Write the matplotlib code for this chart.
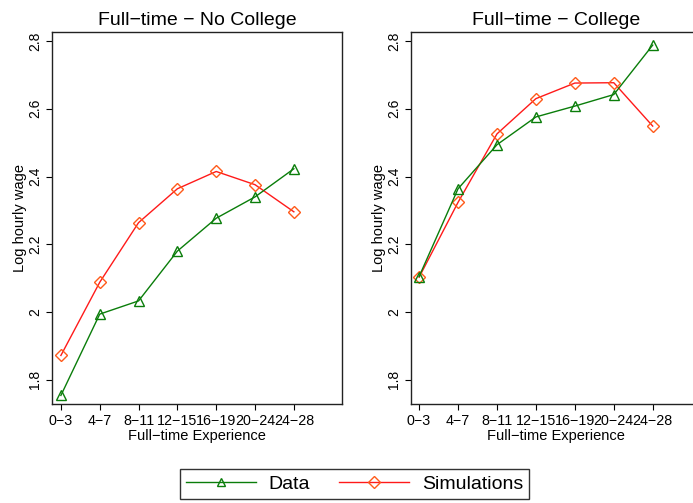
import matplotlib
matplotlib.use("Agg")
import matplotlib.pyplot as plt
from matplotlib.lines import Line2D

plt.rcParams['font.family'] = ['Liberation Sans', 'DejaVu Sans']

categories = ["0\u22123", "4\u22127", "8\u221211", "12\u221215", "16\u221219", "20\u221224", "24\u221228"]

nocol_data = [1.754, 1.994, 2.033, 2.180, 2.277, 2.340, 2.423]
nocol_sim = [1.872, 2.088, 2.264, 2.364, 2.415, 2.376, 2.296]

col_data = [2.105, 2.364, 2.494, 2.576, 2.608, 2.642, 2.788]
col_sim = [2.103, 2.324, 2.526, 2.630, 2.676, 2.677, 2.549]

yticks = [1.8, 2.0, 2.2, 2.4, 2.6, 2.8]
ytick_labels = ["1.8", "2", "2.2", "2.4", "2.6", "2.8"]

green = "#0a7d0a"
red = "#ff1a1a"
orange = "#ff5a1a"

fig = plt.figure(figsize=(6.93, 5.03), dpi=100)
ax1 = fig.add_axes([0.075, 0.197, 0.4185, 0.7396])
ax2 = fig.add_axes([0.593, 0.197, 0.4185, 0.7396])

panels = [(ax1, "Full\u2212time \u2212 No College", nocol_data, nocol_sim, -0.23, 7.24),
          (ax2, "Full\u2212time \u2212 College", col_data, col_sim, -0.21, 7.24)]

x = list(range(len(categories)))
for ax, title, d, s, xl, xr in panels:
    ax.plot(x, s, color=red, lw=1.0, marker="D", ms=6.5, mfc="none", mec=orange, mew=1.0, zorder=3)
    ax.plot(x, d, color=green, lw=1.0, marker="^", ms=7, mfc="none", mec=green, mew=1.0, zorder=4)
    ax.set_xlim(xl, xr)
    ax.set_ylim(1.729, 2.827)
    ax.set_xticks(x)
    ax.set_xticklabels(categories, fontsize=10.3)
    ax.set_yticks(yticks)
    ax.set_yticklabels(ytick_labels, fontsize=10, rotation=90, va="center")
    ax.tick_params(direction="out", length=4, width=0.8, pad=3)
    ax.set_title(title, fontsize=14, pad=5)
    ax.set_xlabel("Full\u2212time Experience", fontsize=10.5, labelpad=1)
    ax.set_ylabel("Log hourly wage", fontsize=10.5, labelpad=1)
    for sp in ax.spines.values():
        sp.set_linewidth(1.0)
        sp.set_color("#222222")

handles = [Line2D([], [], color=green, lw=1.0, marker="^", ms=5.5, mfc="none", mec=green),
           Line2D([], [], color=red, lw=1.0, marker="D", ms=6, mfc="none", mec=orange)]
leg = fig.legend(handles, ["Data", "Simulations"], loc="center", bbox_to_anchor=(0.5115, 0.038),
                 ncol=2, fontsize=14, frameon=True, fancybox=False, handlelength=3.6,
                 columnspacing=1.5, handletextpad=0.65, borderpad=0.3, borderaxespad=0,
                 edgecolor="black")
leg.get_frame().set_linewidth(1.0)

fig.savefig("out.png", dpi=100)
